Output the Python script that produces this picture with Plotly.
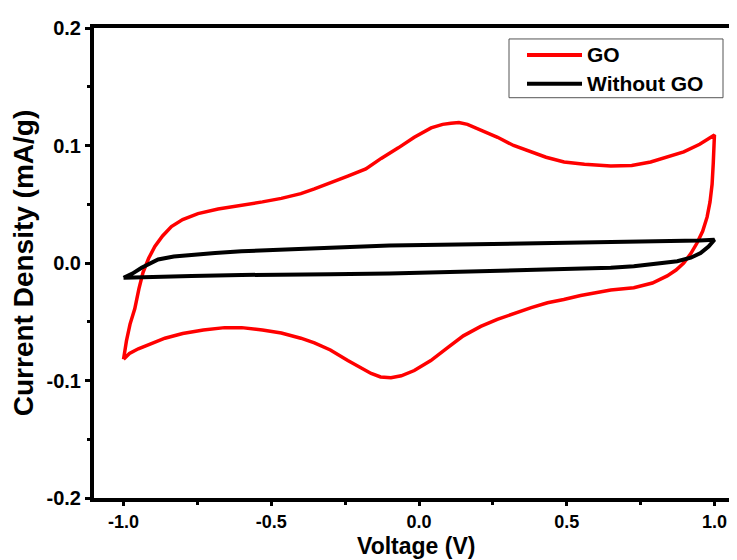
import plotly.graph_objects as go

# ---- data ----
go_v_up = [-1.0, -0.99, -0.978, -0.962, -0.948, -0.934, -0.915, -0.894, -0.868, -0.838, -0.80, -0.748,
           -0.68, -0.601, -0.53, -0.466, -0.40, -0.354, -0.30, -0.241, -0.18, -0.128, -0.07, -0.016,
           0.041, 0.08, 0.108, 0.135, 0.164, 0.21, 0.266, 0.32, 0.378, 0.43, 0.491, 0.56, 0.649, 0.72,
           0.784, 0.84, 0.896, 0.95, 1.0]
go_i_up = [-0.082, -0.066, -0.052, -0.039, -0.022, -0.008, 0.004, 0.014, 0.023, 0.031, 0.037, 0.042,
           0.046, 0.049, 0.052, 0.055, 0.059, 0.063, 0.068, 0.074, 0.080, 0.089, 0.098, 0.107,
           0.115, 0.118, 0.119, 0.1195, 0.118, 0.113, 0.107, 0.100, 0.0946, 0.090, 0.086, 0.084, 0.0826, 0.083,
           0.086, 0.090, 0.0946, 0.101, 0.109]
go_v_dn = [1.0, 0.996, 0.992, 0.985, 0.975, 0.96, 0.941, 0.92, 0.896, 0.87, 0.84, 0.79, 0.727, 0.649,
           0.60, 0.547, 0.49, 0.435, 0.38, 0.322, 0.265, 0.209, 0.15, 0.097, 0.04, -0.016, -0.06, -0.095,
           -0.13, -0.162, -0.20, -0.241, -0.30, -0.354, -0.40, -0.466, -0.53, -0.60, -0.658, -0.73, -0.80,
           -0.86, -0.91, -0.95, -0.98, -1.0]
go_i_dn = [0.109, 0.085, 0.067, 0.052, 0.039, 0.027, 0.017, 0.008, 0.0, -0.006, -0.011, -0.017, -0.021, -0.023,
           -0.025, -0.0277, -0.031, -0.0338, -0.038, -0.043, -0.048, -0.054, -0.062, -0.072, -0.083, -0.0915, -0.096, -0.0977,
           -0.097, -0.094, -0.089, -0.083, -0.074, -0.068, -0.064, -0.0596, -0.057, -0.055, -0.055, -0.057, -0.060,
           -0.064, -0.069, -0.073, -0.077, -0.082]

wo_v_up = [-1.0, -0.97, -0.939, -0.91, -0.883, -0.83, -0.77, -0.69, -0.601, -0.466, -0.30, -0.10,
           0.1, 0.3, 0.5, 0.7, 0.85, 0.95, 1.0]
wo_i_up = [-0.0125, -0.009, -0.004, 0.0, 0.003, 0.0055, 0.007, 0.0085, 0.0099, 0.0115, 0.013, 0.0148,
           0.0155, 0.016, 0.0168, 0.0175, 0.0183, 0.0191, 0.0198]
wo_v_dn = [1.0, 0.98, 0.953, 0.92, 0.874, 0.80, 0.727, 0.649, 0.5, 0.3, 0.1, -0.1, -0.3, -0.466,
           -0.6, -0.77, -0.9, -0.96, -1.0]
wo_i_dn = [0.0198, 0.014, 0.0085, 0.0045, 0.0015, -0.001, -0.0027, -0.004, -0.005, -0.0068, -0.0082, -0.009,
           -0.0095, -0.0096, -0.0102, -0.011, -0.0118, -0.0122, -0.0125]

series_names = ["GO", "Without GO"]
x_tickvals = [-1.0, -0.5, 0.0, 0.5, 1.0]
x_ticktext = ["-1.0", "-0.5", "0.0", "0.5", "1.0"]
y_tickvals = [-0.2, -0.1, 0.0, 0.1, 0.2]
y_ticktext = ["-0.2", "-0.1", "0.0", "0.1", "0.2"]
x_title = "Voltage (V)"
y_title = "Current Density (mA/g)"

FONT = "Liberation Sans, Arial, sans-serif"
RED = "#ff0000"
BLACK = "#000000"

fig = go.Figure()
fig.add_trace(go.Scatter(x=go_v_up + go_v_dn, y=go_i_up + go_i_dn, mode="lines",
                         name=series_names[0], line=dict(color=RED, width=3.5), showlegend=False))
fig.add_trace(go.Scatter(x=wo_v_up + wo_v_dn, y=wo_i_up + wo_i_dn, mode="lines",
                         name=series_names[1], line=dict(color=BLACK, width=4), showlegend=False))

# the page body has an 8px margin; the figure is laid out so that the
# right part of the frame runs past the window edge, as in the reference
OFF = 8
W, H = 745, 560
ML, MR, MT, MB = 86, 9, 18, 70

fig.update_layout(
    width=W, height=H,
    margin=dict(l=ML, r=MR, t=MT, b=MB),
    paper_bgcolor="white", plot_bgcolor="white",
    font=dict(family=FONT, color="black", size=20, weight="bold"),
)

fig.update_xaxes(
    range=[-1.1, 1.1], showgrid=False, zeroline=False,
    showline=True, linecolor="black", linewidth=4, mirror=True,
    ticks="outside", ticklen=4, tickwidth=3, tickcolor="black",
    tickvals=x_tickvals, ticktext=x_ticktext,
    tickfont=dict(family=FONT, size=18, weight="bold"),
    minor=dict(ticks="outside", ticklen=3, tickwidth=3, tickcolor="black", dtick=0.25, tick0=0, showgrid=False),
)
fig.update_yaxes(
    range=[-0.2, 0.2], showgrid=False, zeroline=False,
    showline=True, linecolor="black", linewidth=4, mirror=False,
    ticks="outside", ticklen=5, tickwidth=3, tickcolor="black",
    tickvals=y_tickvals, ticktext=y_ticktext,
    tickfont=dict(family=FONT, size=20, weight="bold"),
    minor=dict(ticks="outside", ticklen=3, tickwidth=3, tickcolor="black", dtick=0.05, tick0=0, showgrid=False),
    title=dict(text=y_title, font=dict(family=FONT, size=28, weight="bold"), standoff=10),
)

pw = W - ML - MR
ph = H - MT - MB
def px(xp):
    return (xp - OFF - ML) / pw
def py(yp):
    return (H - MB - (yp - OFF)) / ph

# x-axis title placed just under the tick labels
fig.add_annotation(xref="paper", yref="paper", x=px(416), y=py(560),
                   text=x_title, showarrow=False, xanchor="center", yanchor="bottom",
                   borderpad=0,
                   font=dict(family=FONT, size=23, color="black", weight="bold"))

# ---- legend drawn as a box with line samples and text (window pixel positions) ----
fig.add_shape(type="rect", xref="paper", yref="paper",
              x0=px(509), x1=px(723), y0=py(96), y1=py(37),
              line=dict(color="#555555", width=1), fillcolor="white")
legend_colors = [RED, BLACK]
legend_rows = [53, 82]
for name, col, yr in zip(series_names, legend_colors, legend_rows):
    fig.add_shape(type="line", xref="paper", yref="paper",
                  x0=px(527), x1=px(582), y0=py(yr), y1=py(yr),
                  line=dict(color=col, width=4))
    fig.add_annotation(xref="paper", yref="paper", x=px(585), y=py(yr),
                       text=name, showarrow=False, xanchor="left", yanchor="middle",
                       font=dict(family=FONT, size=21, color="black", weight="bold"))

fig.write_html("out.html")
